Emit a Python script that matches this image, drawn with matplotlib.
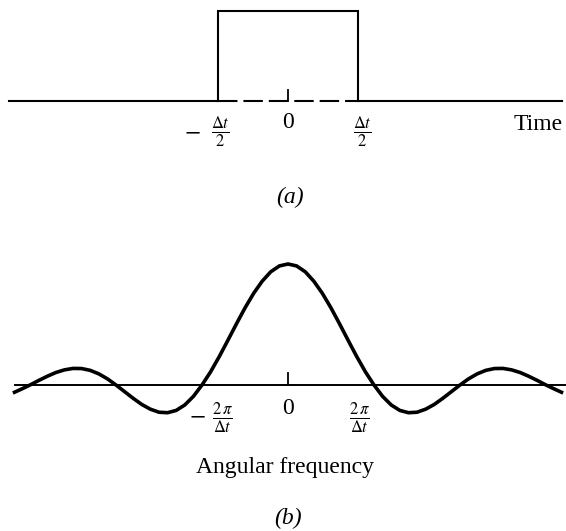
import matplotlib.pyplot as plt

plt.rcParams['mathtext.fontset'] = 'stix'
plt.rcParams['font.family'] = 'Liberation Serif'
plt.rcParams['lines.scale_dashes'] = False

# rectangular pulse, time in units of the pulse width
pulse_t = [-0.5, -0.5, 0.5, 0.5]
pulse_amp = [0, 1, 1, 0]
time_span = [-1.99, 1.96]

# spectrum of the pulse, frequency in units of 2*pi/dt (right half, mirrored)
freq_pos = [0.0, 0.1, 0.2, 0.3, 0.4, 0.5, 0.6, 0.7, 0.8, 0.9, 1.0,
            1.1, 1.2, 1.3, 1.4, 1.5, 1.6, 1.7, 1.8, 1.9, 2.0,
            2.1, 2.2, 2.3, 2.4, 2.5, 2.6, 2.7, 2.8, 2.9, 3.0, 3.1, 3.18]
spec_pos = [1.0, 0.984, 0.936, 0.858, 0.757, 0.637, 0.505, 0.368, 0.234, 0.109, 0.0,
            -0.094, -0.165, -0.210, -0.229, -0.225, -0.200, -0.161, -0.110, -0.055, 0.0,
            0.051, 0.092, 0.121, 0.136, 0.137, 0.125, 0.103, 0.072, 0.037, 0.0, -0.034, -0.06]
freq_span = [-3.17, 3.22]

freq = [-f for f in freq_pos[::-1]] + freq_pos[1:]
spec = spec_pos[::-1] + spec_pos[1:]

fig = plt.figure(figsize=(5.66, 5.31), dpi=100)
fs = 17

# (a) time domain
ax1 = fig.add_axes([0, 331 / 531, 1, 200 / 531])
ax1.set_xlim(-288 / 140, 278 / 140)
ax1.set_ylim(-99 / 90, 101 / 90)
ax1.axis('off')
lw = 1.5
ax1.plot([time_span[0], pulse_t[0]], [0, 0], color='black', lw=lw)
ax1.plot([pulse_t[-1], time_span[1]], [0, 0], color='black', lw=lw)
ax1.plot([pulse_t[0], pulse_t[-1]], [0, 0], color='black', lw=lw, dashes=(14, 4.3))
ax1.plot(pulse_t, pulse_amp, color='black', lw=lw, solid_joinstyle='miter')
ax1.plot([0, 0], [0, 0.122], color='black', lw=1.3)

ax1.text(-0.68, -0.344, '$-$', fontsize=fs, ha='center', va='center')
ax1.text(-0.486, -0.344, r'$\frac{\Delta t}{2}$', fontsize=fs, ha='center', va='center')
ax1.text(0, -0.244, '0', fontsize=fs, ha='center', va='center')
ax1.text(0.529, -0.344, r'$\frac{\Delta t}{2}$', fontsize=fs, ha='center', va='center')
ax1.text(1.786, -0.256, 'Time', fontsize=fs, ha='center', va='center')
ax1.text(0.014, -1.067, '(a)', fontsize=fs, ha='center', va='center', style='italic')

# (b) frequency domain
ax2 = fig.add_axes([0, 0, 1, 301 / 531])
ax2.set_xlim(-288 / 86, 278 / 86)
ax2.set_ylim(-146 / 121, 155 / 121)
ax2.axis('off')
ax2.plot(freq_span, [0, 0], color='black', lw=1.4)
ax2.plot([0, 0], [0, 0.1], color='black', lw=1.3)
ax2.plot(freq, spec, color='black', lw=2.6)

ax2.text(-1.058, -0.256, '$-$', fontsize=fs, ha='center', va='center')
ax2.text(-0.756, -0.273, r'$\frac{2\,\pi}{\Delta t}$', fontsize=fs, ha='center', va='center')
ax2.text(0, -0.198, '0', fontsize=fs, ha='center', va='center')
ax2.text(0.837, -0.273, r'$\frac{2\,\pi}{\Delta t}$', fontsize=fs, ha='center', va='center')
ax2.text(-0.035, -0.678, 'Angular frequency', fontsize=fs, ha='center', va='center')
ax2.text(0, -1.099, '(b)', fontsize=fs, ha='center', va='center', style='italic')

fig.savefig('out.png', dpi=100)
